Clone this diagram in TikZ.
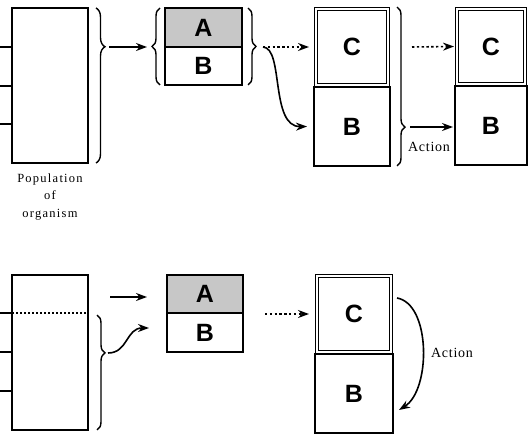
\documentclass[tikz,border=0pt]{standalone}
\usepackage{fontspec}
\setmainfont{Liberation Serif}
\setsansfont{Liberation Sans}
\usetikzlibrary{arrows.meta,decorations.pathreplacing}

\tikzset{
    cell/.style={draw, line width=1.5pt, inner sep=0pt, outer sep=0pt,
        font=\sffamily\bfseries\fontsize{25}{25}\selectfont},
    shaded/.style={cell, fill=black!22},
    cbox/.style={cell, line width=0.9pt, double, double distance=2.4pt},
    popbox/.style={draw, line width=1.5pt, minimum width=76pt, minimum height=155pt,
        inner sep=0pt, outer sep=0pt},
    brc/.style={decorate, line width=1.4pt,
        decoration={brace, amplitude=#1}},
    arr/.style={line width=1.6pt, -{Stealth[length=11pt, width=8pt]}},
    dotarr/.style={arr, dash pattern=on 2.4pt off 2.4pt},
    lbl/.style={font=\fontsize{14}{14}\selectfont\addfontfeature{LetterSpace=5}}
}

\begin{document}
\begin{tikzpicture}[x=1pt, y=-1pt]
    \useasboundingbox (0,0) rectangle (530,435);

    % top row
    \node[popbox] (pop1) at (50,85.5) {};
    \foreach \y in {47,86,124}
        \draw[line width=1.2pt] (0,\y) -- (12,\y);
    \node[align=center, font=\fontsize{12.5}{17.5}\selectfont\addfontfeature{LetterSpace=10}]
        (poplabel) at (50,197) {Population\\of\\organism};

    \draw[brc=9pt, decoration={aspect=0.25}] (96,8) -- (96,163);
    \coordinate (tip1) at (109,47);
    \coordinate (end1) at (147,47);
    \draw[arr] (tip1) -- (end1);

    \draw[brc=8pt] (160,85) -- (160,8);
    \node[shaded, minimum width=77pt, minimum height=39pt] (a1) at (203.5,27.5) {A};
    \node[cell, minimum width=77pt, minimum height=38pt] (b1) at (203.5,66) {B};
    \draw[brc=8pt] (248,8) -- (248,85);
    \coordinate (tip2) at (263,47);

    \node[cbox, minimum width=72pt, minimum height=76pt] (c2) at (352,47) {C};
    \node[cell, minimum width=76pt, minimum height=79pt] (b2) at (352,126.5) {B};
    \draw[dotarr] (tip2) -- ([xshift=-7pt]c2.west);
    \draw[arr] (tip2) .. controls (284,48) and (270,127) .. ([xshift=-7pt]b2.west);

    \draw[brc=8pt, decoration={aspect=0.755}] (397,7) -- (397,166);
    \coordinate (tip3) at (410,127);

    \node[cbox, minimum width=68pt, minimum height=75pt] (c3) at (491,46.5) {C};
    \node[cell, minimum width=72pt, minimum height=79pt] (b3) at (491,125.5) {B};
    \draw[dotarr] (412,47) -- ([xshift=-3pt]c3.west);
    \draw[arr] (tip3) -- ([xshift=-2pt]tip3 -| b3.west);
    \node[lbl] (act1) at (429,147) {Action};

    % bottom row
    \node[popbox] (pop2) at (50,352.5) {};
    \foreach \y in {313,352,391}
        \draw[line width=1.2pt] (0,\y) -- (12,\y);
    \draw[line width=1.4pt, dash pattern=on 2pt off 2pt] (12,313) -- (88,313);

    \draw[brc=8pt, decoration={aspect=0.33}] (97,315) -- (97,430);
    \coordinate (tip4) at (108,353);
    \coordinate (start5) at (110,297);
    \coordinate (end5) at (147,297);
    \coordinate (end6) at (149,328);
    \draw[arr] (start5) -- (end5);
    \draw[arr] (tip4) .. controls (128,353) and (126,328) .. (end6);

    \node[shaded, minimum width=76pt, minimum height=38pt] (a4) at (205,294) {A};
    \node[cell, minimum width=76pt, minimum height=39pt] (b4) at (205,332.5) {B};
    \coordinate (start7) at (265,314);

    \node[cbox, minimum width=74pt, minimum height=76pt] (c5) at (354,314) {C};
    \node[cell, minimum width=78pt, minimum height=79pt] (b5) at (354,393.5) {B};
    \draw[dotarr] (start7) -- ([xshift=-8pt]c5.west);
    \coordinate (start8) at (397,298);
    \coordinate (end8) at (399,410);
    \draw[arr] (start8) .. controls (431,304) and (431,390) .. (end8);
    \node[lbl] (act2) at (452,353) {Action};
\end{tikzpicture}
\end{document}
